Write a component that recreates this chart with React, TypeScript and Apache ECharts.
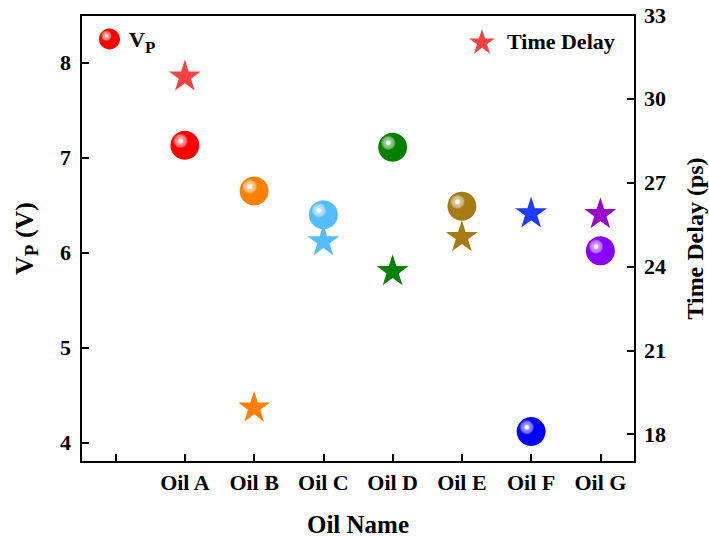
import { useEffect, useRef } from 'react';
import * as echarts from 'echarts';

const categories = ['', 'Oil A', 'Oil B', 'Oil C', 'Oil D', 'Oil E', 'Oil F', 'Oil G'];
const oils = ['Oil A', 'Oil B', 'Oil C', 'Oil D', 'Oil E', 'Oil F', 'Oil G'];
const vpValues = [7.13, 6.65, 6.4, 7.11, 6.49, 4.12, 6.02];
const delayValues = [30.85, 19.0, 24.95, 23.88, 25.1, 25.95, 25.92];
const vpColors = ['#FF0000', '#FF8000', '#55BDFF', '#008000', '#A67A14', '#0000FF', '#8800FF'];
const delayColors = ['#EF4444', '#FF8000', '#55BDFF', '#008000', '#A67A14', '#1E3CFF', '#9900CC'];
const vpTicks = [4, 5, 6, 7, 8];
const delayTicks = [18, 21, 24, 27, 30, 33];

const FONT = 'Liberation Serif';
const STAR =
  'path://M50,0 L61.2,34.5 L97.6,34.5 L68.2,55.9 L79.4,90.5 L50,69.1 L20.6,90.5 L31.8,55.9 L2.4,34.5 L38.8,34.5 Z';

function mix(hex: string, t: number) {
  const n = parseInt(hex.slice(1), 16);
  const r = (n >> 16) & 255;
  const g = (n >> 8) & 255;
  const b = n & 255;
  const f = (v: number) => Math.round(v + (255 - v) * t);
  return `rgb(${f(r)},${f(g)},${f(b)})`;
}

function sphere(c: string) {
  return {
    type: 'radial',
    x: 0.35,
    y: 0.35,
    r: 0.62,
    colorStops: [
      { offset: 0, color: '#ffffff' },
      { offset: 0.09, color: '#ffffff' },
      { offset: 0.16, color: mix(c, 0.6) },
      { offset: 0.32, color: mix(c, 0.42) },
      { offset: 0.42, color: c },
      { offset: 1, color: c },
    ],
  };
}

const baseText = { fontFamily: FONT, fontWeight: 'bold', color: '#000' };
const lineStyle = () => ({ color: '#000', width: 2 });

export default function App() {
  const ref = useRef<HTMLDivElement>(null);
  useEffect(() => {
    if (!ref.current) return;
    const chart = echarts.init(ref.current, undefined, { renderer: 'svg' });
    const option: any = {
      animation: false,
      grid: { left: 81, right: 74, top: 15, bottom: 75, outerBoundsMode: 'none', containLabel: false },
      legend: [
        {
          data: ['VP'],
          left: 99,
          top: 28,
          padding: 0,
          itemWidth: 21,
          itemHeight: 21,
          icon: 'circle',
          selectedMode: false,
          formatter: () => '{v|V}{s|P}',
          textStyle: {
            ...baseText,
            rich: {
              v: { ...baseText, fontSize: 22, padding: [0, 0, 0, 4] },
              s: { ...baseText, fontSize: 17, padding: [17, 0, 0, 0] },
            },
          },
        },
        {
          data: ['Time Delay'],
          left: 469,
          top: 29,
          padding: 0,
          itemWidth: 26,
          itemHeight: 25,
          icon: STAR,
          selectedMode: false,
          textStyle: { ...baseText, fontSize: 22, padding: [0, 0, 0, 7] },
        },
      ],
      xAxis: [
        {
          type: 'category',
          data: categories,
          boundaryGap: true,
          position: 'bottom',
          name: 'Oil Name',
          nameLocation: 'middle',
          nameGap: 50,
          nameTextStyle: { ...baseText, fontSize: 25 },
          axisLine: { show: true, lineStyle: lineStyle() },
          axisTick: { show: true, alignWithLabel: true, inside: true, length: 8, lineStyle: lineStyle() },
          axisLabel: { ...baseText, fontSize: 22, margin: 9, interval: 0 },
          splitLine: { show: false },
        },
        {
          type: 'category',
          data: categories,
          position: 'top',
          axisLine: { show: true, lineStyle: lineStyle() },
          axisTick: { show: false },
          axisLabel: { show: false },
          splitLine: { show: false },
        },
      ],
      yAxis: [
        {
          type: 'value',
          min: 3.8,
          max: 8.5,
          position: 'left',
          name: '{v|V}{s|P}{v| (V)}',
          nameLocation: 'middle',
          nameRotate: 90,
          nameGap: 40,
          nameTextStyle: {
            ...baseText,
            rich: {
              v: { ...baseText, fontSize: 26 },
              s: { ...baseText, fontSize: 19, padding: [14, 0, 0, 0] },
            },
          },
          axisLine: { show: true, lineStyle: lineStyle() },
          axisTick: { show: true, inside: true, length: 8, customValues: vpTicks, lineStyle: lineStyle() },
          axisLabel: { ...baseText, fontSize: 22, margin: 10, customValues: vpTicks },
          splitLine: { show: false },
        },
        {
          type: 'value',
          min: 17,
          max: 33,
          position: 'right',
          name: 'Time Delay (ps)',
          nameLocation: 'middle',
          nameRotate: 90,
          nameGap: 48,
          nameTextStyle: { ...baseText, fontSize: 24 },
          axisLine: { show: true, lineStyle: lineStyle() },
          axisTick: { show: true, inside: true, length: 8, customValues: delayTicks, lineStyle: lineStyle() },
          axisLabel: { ...baseText, fontSize: 22, margin: 9, customValues: delayTicks },
          splitLine: { show: false },
        },
      ],
      series: [
        {
          name: 'VP',
          type: 'scatter',
          xAxisIndex: 0,
          yAxisIndex: 0,
          symbol: 'circle',
          symbolSize: 29,
          itemStyle: { color: sphere(vpColors[0]), opacity: 1 },
          emphasis: { disabled: true },
          data: oils.map((o, i) => ({ value: [o, vpValues[i]], itemStyle: { color: sphere(vpColors[i]), opacity: 1 } })),
          z: 3,
        },
        {
          name: 'Time Delay',
          type: 'scatter',
          xAxisIndex: 0,
          yAxisIndex: 1,
          symbol: STAR,
          symbolSize: [32, 31],
          itemStyle: { color: delayColors[0], opacity: 1 },
          emphasis: { disabled: true },
          data: oils.map((o, i) => ({ value: [o, delayValues[i]], itemStyle: { color: delayColors[i], opacity: 1 } })),
          z: 2,
        },
      ],
    };
    chart.setOption(option);
    return () => chart.dispose();
  }, []);
  return (
    <div
      ref={ref}
      style={{ position: 'fixed', left: 0, top: 0, width: 709, height: 537, background: '#fff' }}
    />
  );
}
